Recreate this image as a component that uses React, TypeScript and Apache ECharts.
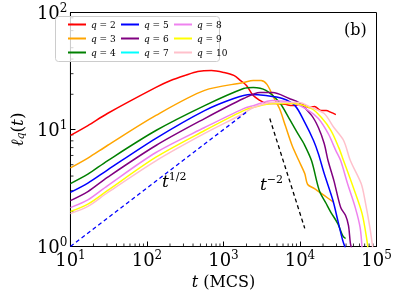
import React, { useEffect, useRef } from 'react';
import * as echarts from 'echarts';

// [t (MCS), l_q(t)] pairs
const q2 = [[10, 8.9], [16.9, 10.8], [30.4, 13.7], [131, 22.9], [204, 26.2], [316, 29.0], [462, 31.3], [695, 31.9], [1018, 30.7], [1365, 29.0], [1675, 26.2], [2000, 23.8], [2450, 19.5], [3005, 17.7], [3585, 16.7], [4800, 16.7], [6430, 16.4], [7890, 16.0], [10570, 16.4], [12980, 15.4], [15460, 15.7], [18970, 14.5], [21980, 14.5], [25430, 14.0], [29430, 13.4]];
const q3 = [[10, 4.7], [16.9, 5.7], [30.4, 7.3], [131, 13.2], [567, 21.6], [1830, 25.2], [2450, 26.2], [3100, 26.2], [3700, 24.3], [4400, 19.5], [5400, 15.1], [6430, 10.8], [7890, 7.3], [9690, 5.4], [11540, 4.2], [12600, 3.39], [15460, 3.13], [20720, 2.73], [27740, 2.38]];
const q4 = [[10, 3.45], [16.9, 4.15], [30.4, 5.4], [131, 9.8], [567, 16.0], [1830, 22.4], [2450, 22.9], [3585, 21.6], [5400, 17.0], [7230, 12.4], [9690, 8.9], [11220, 7.59], [14170, 5.4], [17910, 3.0], [21980, 2.33], [25430, 1.95], [31200, 1.57], [36140, 1.24], [39430, 1.17]];
const q5 = [[10, 2.9], [16.9, 3.48], [30.4, 4.5], [131, 8.4], [567, 14.5], [1365, 18.4], [2245, 19.9], [3585, 19.5], [5890, 18.4], [8610, 16.0], [11540, 11.5], [15030, 8.05], [17390, 6.2], [20720, 4.2], [26970, 2.47], [31200, 1.67], [36140, 1.13], [39430, 0.96]];
const q6 = [[10, 2.47], [16.9, 2.95], [30.4, 3.9], [131, 7.3], [567, 12.4], [1830, 18.4], [3005, 20.7], [4400, 20.7], [7230, 18.4], [9690, 17.0], [14170, 13.2], [17390, 10.4], [20720, 7.59], [23300, 5.4], [27740, 3.66], [34070, 2.15], [39430, 1.84], [43060, 1.51], [45650, 1.06], [48400, 0.92]];
const q7: number[][] = [];
const q8 = [[10, 2.15], [16.9, 2.5], [30.4, 3.3], [131, 6.36], [567, 10.4], [1830, 15.1], [2450, 16.0], [4400, 17.7], [8610, 16.7], [12980, 14.5], [17390, 12.4], [23300, 9.25], [29430, 6.6], [34070, 5.4], [41800, 3.45], [52800, 2.15], [61100, 1.45], [64800, 0.96]];
const q9 = [[10, 1.99], [16.9, 2.3], [30.4, 3.0], [131, 5.8], [567, 9.8], [1830, 14.5], [2450, 15.4], [4400, 16.7], [7890, 16.7], [14170, 15.1], [18970, 12.7], [25430, 9.8], [32140, 7.0], [37180, 5.4], [49800, 3.19], [64800, 1.91], [75000, 1.13], [77200, 0.96]];
const q10 = [[10, 1.91], [16.9, 2.2], [30.4, 2.88], [131, 5.4], [567, 9.25], [1830, 13.7], [2450, 15.4], [4400, 17.0], [9690, 17.0], [14170, 15.4], [20720, 13.7], [27740, 10.4], [37180, 8.05], [45650, 5.4], [63000, 3.45], [70800, 2.47], [82000, 1.45], [89500, 0.96]];

// guide lines
const tHalf = [[10, 1], [2000, 14.1]];
const tMinus2 = [[4030, 12.4], [11540, 1.43]];

const seriesNames = ['q = 2', 'q = 3', 'q = 4', 'q = 5', 'q = 6', 'q = 7', 'q = 8', 'q = 9', 'q = 10'];
const seriesData = [q2, q3, q4, q5, q6, q7, q8, q9, q10];
const seriesColors = ['#ff0000', '#ffa500', '#008000', '#0000ff', '#800080', '#00ffff', '#ee82ee', '#ffff00', '#ffc0cb'];

const xMinor: number[] = [];
for (let k = 1; k <= 4; k++) for (let m = 2; m <= 9; m++) xMinor.push(m * Math.pow(10, k));
const yMinor: number[] = [];
for (let k = 0; k <= 1; k++) for (let m = 2; m <= 9; m++) yMinor.push(m * Math.pow(10, k));

const FONT = 'DejaVu Serif';

const tickRich = {
  b: { fontSize: 18, fontFamily: FONT, color: '#000' },
  s: { fontSize: 12, fontFamily: FONT, color: '#000', padding: [0, 0, 10, 0] },
};
const tickFormatter = (v: number) => `{b|10}{s|${Math.round(Math.log10(v))}}`;

export default function App() {
  const ref = useRef<HTMLDivElement>(null);
  useEffect(() => {
    const chart = echarts.init(ref.current!, null, { renderer: 'svg' });
    const legendText = {
      fontSize: 9,
      fontFamily: FONT,
      color: '#000',
      lineHeight: 11,
      rich: {
        i: { fontSize: 9, fontFamily: FONT, fontStyle: 'italic', color: '#000' },
        n: { fontSize: 9, fontFamily: FONT, color: '#000' },
      },
    };
    const legendFmt = (name: string) => `{i|q}{n|${name.slice(1)}}`;
    const mkLegend = (names: string[], left: number) => ({
      data: names.map((n) => ({ name: n, icon: 'rect' })),
      left,
      top: 19,
      orient: 'vertical',
      itemWidth: 18,
      itemHeight: 2,
      itemGap: 3,
      padding: 0,
      textStyle: legendText,
      formatter: legendFmt,
    });
    const option: any = {
      animation: false,
      textStyle: { fontFamily: FONT },
      grid: { left: 62.5, right: 22.5, top: 12.5, bottom: 48.5, show: true, borderColor: '#000', borderWidth: 1 },
      xAxis: {
        type: 'log',
        logBase: 10,
        min: 10,
        max: 100000,
        splitNumber: 4,
        axisLine: { show: true, lineStyle: { color: '#000', width: 1 } },
        axisTick: { show: true, inside: true, length: 5, lineStyle: { color: '#000' } },
        splitLine: { show: false },
        axisLabel: { formatter: tickFormatter, rich: tickRich, margin: 2 },
        name: '{i|t} (MCS)',
        nameLocation: 'middle',
        nameGap: 21,
        nameTextStyle: {
          fontSize: 16, fontFamily: FONT, color: '#000',
          rich: { i: { fontSize: 16, fontFamily: FONT, fontStyle: 'italic', color: '#000' } },
        },
      },
      yAxis: {
        type: 'log',
        logBase: 10,
        min: 1,
        max: 100,
        axisLine: { show: true, lineStyle: { color: '#000', width: 1 } },
        axisTick: { show: true, inside: true, length: 5, lineStyle: { color: '#000' } },
        splitLine: { show: false },
        axisLabel: { formatter: tickFormatter, rich: tickRich, margin: 3 },
        name: '{i|ℓ}{sub|q}{n|(}{i|t}{n|)}',
        nameLocation: 'middle',
        nameRotate: 90,
        nameGap: 26,
        nameTextStyle: {
          color: '#000',
          rich: {
            i: { fontSize: 17, fontFamily: FONT, fontStyle: 'italic', color: '#000' },
            sub: { fontSize: 11, fontFamily: FONT, fontStyle: 'italic', color: '#000', padding: [8, 0, 0, 0] },
            n: { fontSize: 17, fontFamily: FONT, color: '#000' },
          },
        },
      },
      legend: [
        mkLegend(['q = 2', 'q = 3', 'q = 4'], 68),
        mkLegend(['q = 5', 'q = 6', 'q = 7'], 121),
        mkLegend(['q = 8', 'q = 9', 'q = 10'], 174),
      ],
      graphic: [
        { type: 'rect', z: 3, shape: { x: 55.5, y: 16.5, width: 164, height: 45, r: 3 }, style: { fill: 'rgba(255,255,255,0.8)', stroke: '#cccccc', lineWidth: 1 } },
        { type: 'text', z: 5, x: 344, y: 29, style: { text: '(b)', fontSize: 16, fontFamily: FONT, fill: '#000', verticalAlign: 'middle' } },
        {
          type: 'text', z: 5, x: 162, y: 181,
          style: {
            text: '{t|t}{s|1/2}', verticalAlign: 'middle', fill: '#000',
            rich: {
              t: { fontSize: 17, fontFamily: FONT, fontStyle: 'italic', fill: '#000' },
              s: { fontSize: 11, fontFamily: FONT, fill: '#000', padding: [0, 0, 10, 0] },
            },
          },
        },
        {
          type: 'text', z: 5, x: 260, y: 184,
          style: {
            text: '{t|t}{s|−2}', verticalAlign: 'middle', fill: '#000',
            rich: {
              t: { fontSize: 17, fontFamily: FONT, fontStyle: 'italic', fill: '#000' },
              s: { fontSize: 11, fontFamily: FONT, fill: '#000', padding: [0, 0, 10, 0] },
            },
          },
        },
      ],
      series: [
        ...seriesNames.map((name, i) => ({
          name,
          type: 'line',
          data: seriesData[i],
          symbol: 'none',
          smooth: 0.3,
          color: seriesColors[i],
          itemStyle: { color: seriesColors[i] },
          lineStyle: { width: 1.5, color: seriesColors[i] },
          clip: true,
          z: 2 + i * 0.01,
        })),
        {
          name: 't^1/2',
          type: 'line',
          data: tHalf,
          symbol: 'none',
          lineStyle: { width: 1.3, color: '#0000ff', type: [4, 3] },
        },
        {
          name: 't^-2',
          type: 'line',
          data: tMinus2,
          symbol: 'none',
          lineStyle: { width: 1.3, color: '#000', type: [4, 3] },
        },
        {
          name: 'xminor',
          type: 'custom',
          clip: false,
          silent: true,
          data: xMinor.map((v) => [v, 1]),
          renderItem: (params: any, api: any) => {
            const p = api.coord([api.value(0), 1]);
            return { type: 'line', shape: { x1: p[0], y1: p[1], x2: p[0], y2: p[1] - 3 }, style: { stroke: '#000', lineWidth: 0.8 } };
          },
        },
        {
          name: 'yminor',
          type: 'custom',
          clip: false,
          silent: true,
          data: yMinor.map((v) => [10, v]),
          renderItem: (params: any, api: any) => {
            const p = api.coord([10, api.value(1)]);
            return { type: 'line', shape: { x1: p[0], y1: p[1], x2: p[0] + 3, y2: p[1] }, style: { stroke: '#000', lineWidth: 0.8 } };
          },
        },
      ],
    };
    chart.setOption(option);
    return () => chart.dispose();
  }, []);
  return <div ref={ref} style={{ position: 'fixed', left: 0, top: 0, width: 399, height: 295 }} />;
}
